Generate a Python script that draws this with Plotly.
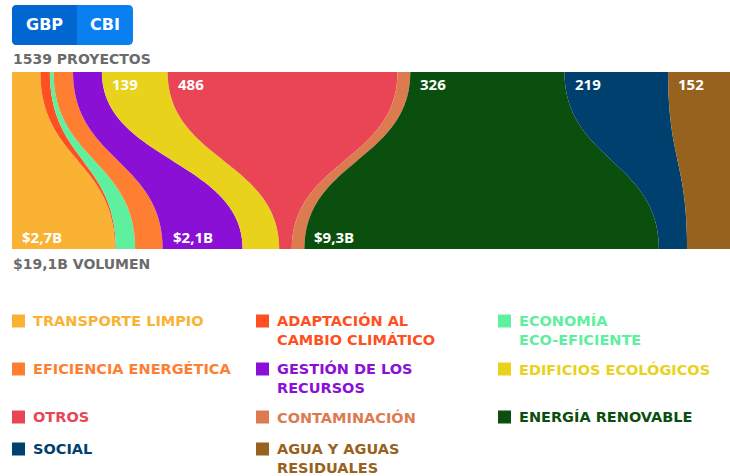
import numpy as np
import plotly.graph_objects as go

# Green bond categories: project counts (top) and volume in billions (bottom)
categories = ['TRANSPORTE LIMPIO', 'ADAPTACIÓN AL<br>CAMBIO CLIMÁTICO', 'ECONOMÍA<br>ECO-EFICIENTE',
              'EFICIENCIA ENERGÉTICA', 'GESTIÓN DE LOS<br>RECURSOS', 'EDIFICIOS ECOLÓGICOS',
              'OTROS', 'CONTAMINACIÓN', 'ENERGÍA RENOVABLE', 'SOCIAL', 'AGUA Y AGUAS<br>RESIDUALES']
colors = ['#F9B233', '#FF5022', '#5EF09E', '#FF7F32', '#8B10D6', '#E8D21C',
          '#E94554', '#DD7B50', '#0B4F0E', '#00406F', '#97611E']
projects = [60, 20, 8, 41, 61, 139, 486, 27, 326, 219, 152]
volume = [2.7, 0.02, 0.51, 0.72, 2.1, 0.96, 0.33, 0.33, 9.3, 0.74, 1.39]
volume_labels = ['$2,7B', '', '', '', '$2,1B', '', '', '', '$9,3B', '', '']

W, H = 730, 476
L, R, T, B = 12, 0, 72, 227
pw, ph = W - L - R, H - T - B
FONT = 'DejaVu Sans'
NUM_FONT = 'Open Sans'
LEG_SIZE = 14.5


def px(x, y):
    return (x - L) / pw, (H - B - y) / ph


def rounded(xa, ya, xb, yb, r, left=True, right=True):
    # rounded rectangle path in paper coords, given pixel corners
    def p(x, y):
        a, b = px(x, y)
        return f'{a:.5f},{b:.5f}'
    rl = r if left else 0
    rr = r if right else 0
    d = f'M {p(xa + rl, ya)} L {p(xb - rr, ya)} Q {p(xb, ya)} {p(xb, ya + rr)} '
    d += f'L {p(xb, yb - rr)} Q {p(xb, yb)} {p(xb - rr, yb)} '
    d += f'L {p(xa + rl, yb)} Q {p(xa, yb)} {p(xa, yb - rl)} '
    d += f'L {p(xa, ya + rl)} Q {p(xa, ya)} {p(xa + rl, ya)} Z'
    return d


total_p = sum(projects)
total_v = sum(volume)
top_edges = np.concatenate([[0], np.cumsum(projects)]) / total_p
bot_edges = np.concatenate([[0], np.cumsum(volume)]) / total_v

t = np.linspace(0, 1, 60)


def edge(xt, xb):
    # vertical cubic bezier from top (y=1) to bottom (y=0)
    x = (1 - t) ** 3 * xt + 3 * (1 - t) ** 2 * t * xt + 3 * (1 - t) * t ** 2 * xb + t ** 3 * xb
    y = (1 - t) ** 3 * 1 + 3 * (1 - t) ** 2 * t * 0.5 + 3 * (1 - t) * t ** 2 * 0.5
    return x, y


fig = go.Figure()
for i, c in enumerate(colors):
    xl, yl = edge(top_edges[i], bot_edges[i])
    xr, yr = edge(top_edges[i + 1], bot_edges[i + 1])
    xs = np.concatenate([xl, xr[::-1]])
    ys = np.concatenate([yl, yr[::-1]])
    fig.add_trace(go.Scatter(x=xs, y=ys, fill='toself', fillcolor=c, mode='none',
                             hoverinfo='skip', showlegend=False))

annotations = []
# top count labels
for i, n in enumerate(projects):
    if n >= 100:
        annotations.append(dict(x=top_edges[i], y=px(0, 84)[1], xref='x', yref='paper', text=str(n),
                                showarrow=False, xanchor='left', yanchor='middle', xshift=8,
                                font=dict(family=NUM_FONT, size=15, color='white', weight='bold')))
# bottom volume labels
for i, lab in enumerate(volume_labels):
    if lab:
        annotations.append(dict(x=bot_edges[i], y=px(0, 237)[1], xref='x', yref='paper', text=lab,
                                showarrow=False, xanchor='left', yanchor='middle', xshift=8,
                                font=dict(family=NUM_FONT, size=15, color='white', weight='bold')))

# header texts
annotations.append(dict(x=px(11, 0)[0], y=px(0, 59)[1], xref='paper', yref='paper',
                        text=f'{total_p} PROYECTOS', showarrow=False, xanchor='left', yanchor='middle',
                        font=dict(family=FONT, size=14, color='#6b6b6b', weight='bold')))
annotations.append(dict(x=px(11, 0)[0], y=px(0, 264)[1], xref='paper', yref='paper',
                        text='$' + f'{total_v:.1f}'.replace('.', ',') + 'B VOLUMEN', showarrow=False,
                        xanchor='left', yanchor='middle',
                        font=dict(family=FONT, size=14, color='#6b6b6b', weight='bold')))

shapes = []
# GBP / CBI toggle
shapes.append(dict(type='path', xref='paper', yref='paper', path=rounded(12, 5, 133, 45, 5),
                   fillcolor='#0A80F0', line=dict(width=0)))
shapes.append(dict(type='path', xref='paper', yref='paper', path=rounded(12, 5, 77, 45, 5, right=False),
                   fillcolor='#0067D0', line=dict(width=0)))
for label, cx in [('GBP', 44), ('CBI', 105)]:
    annotations.append(dict(x=px(cx, 0)[0], y=px(0, 25)[1], xref='paper', yref='paper', text=label,
                            showarrow=False, xanchor='center', yanchor='middle',
                            font=dict(family=FONT, size=16, color='white', weight='bold')))

# custom legend, 3 columns
col_x = [12, 256, 498]
row_y = [321, 369, 417, 449]
line_h = LEG_SIZE * 1.3
for k, name in enumerate(categories):
    r, c = divmod(k, 3)
    sx, sy = col_x[c], row_y[r]
    a0, b0 = px(sx, sy + 6.5)
    a1, b1 = px(sx + 13, sy - 6.5)
    shapes.append(dict(type='rect', xref='paper', yref='paper', x0=a0, x1=a1, y0=b0, y1=b1,
                       fillcolor=colors[k], line=dict(width=0)))
    n_lines = name.count('<br>') + 1
    cy = sy + (n_lines - 1) * line_h / 2
    annotations.append(dict(x=px(sx + 19, 0)[0], y=px(0, cy)[1], xref='paper', yref='paper',
                            text=name, showarrow=False, xanchor='left', yanchor='middle', align='left',
                            font=dict(family=FONT, size=LEG_SIZE, color=colors[k], weight='bold')))

fig.update_layout(
    width=W, height=H,
    margin=dict(l=L, r=R, t=T, b=B),
    paper_bgcolor='white', plot_bgcolor='white',
    xaxis=dict(range=[0, pw / (pw + 10)], visible=False, fixedrange=True),
    yaxis=dict(range=[0, 1], visible=False, fixedrange=True),
    shapes=shapes, annotations=annotations,
    showlegend=False,
)

fig.write_html('out.html', config={'displayModeBar': False},
               post_script="document.body.style.margin='0';document.body.style.overflow='hidden';")
